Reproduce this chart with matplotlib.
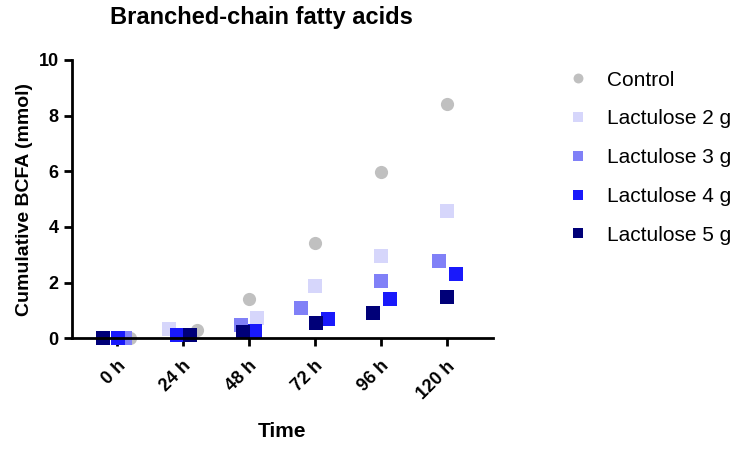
import numpy as np
import matplotlib
matplotlib.use('Agg')
import matplotlib.pyplot as plt

plt.rcParams['font.family'] = ['Liberation Sans', 'DejaVu Sans']

times = ['0 h', '24 h', '48 h', '72 h', '96 h', '120 h']
series = ['Control', 'Lactulose 2 g', 'Lactulose 3 g', 'Lactulose 4 g', 'Lactulose 5 g']
colors = ['#c0c0c0', '#d6d6fb', '#8080f7', '#1919fb', '#000078']
markers = ['o', 's', 's', 's', 's']

control = [0.0, 0.30, 1.42, 3.42, 5.96, 8.43]
lact2 = [0.0, 0.32, 0.74, 1.87, 2.96, 4.57]
lact3 = [0.0, 0.10, 0.47, 1.10, 2.06, 2.77]
lact4 = [0.0, 0.13, 0.27, 0.68, 1.40, 2.31]
lact5 = [0.0, 0.13, 0.23, 0.56, 0.90, 1.50]
values = [control, lact2, lact3, lact4, lact5]

# horizontal scatter of the points around each time (in category units)
jitter = [
    [0.20, 0.21, 0.0, 0.0, 0.0, 0.0],
    [0.05, -0.21, 0.13, 0.0, 0.0, 0.0],
    [0.12, -0.03, -0.12, -0.20, 0.0, -0.12],
    [0.02, -0.09, 0.09, 0.21, 0.14, 0.14],
    [-0.21, 0.11, -0.08, 0.02, -0.12, 0.0],
]

fig = plt.figure(figsize=(7.42, 4.51), dpi=100)
ax = fig.add_axes([0.097, 0.25, 0.567, 0.617])

x = np.arange(len(times))
for name, col, mk, vals, jit in zip(series, colors, markers, values, jitter):
    ms = 9.5 if mk == 'o' else 10.5
    ax.plot(x + np.array(jit), vals, linestyle='none', marker=mk, color=col,
            markersize=ms, markeredgewidth=0, label=name, clip_on=False)

ax.set_xlim(-0.68, 5.7)
ax.set_ylim(0, 10)
ax.set_yticks([0, 2, 4, 6, 8, 10])
ax.set_xticks(x)
ax.set_xticklabels(times, rotation=45, ha='right', rotation_mode='anchor',
                   fontweight='bold', fontsize=13)
for lab in ax.get_yticklabels():
    lab.set_fontweight('bold')
    lab.set_fontsize(13)

for s in ['top', 'right']:
    ax.spines[s].set_visible(False)
for s in ['left', 'bottom']:
    ax.spines[s].set_linewidth(2)
ax.tick_params(width=2, length=6)
ax.tick_params(axis='x', pad=8)

ax.set_ylabel('Cumulative BCFA (mmol)', fontsize=14, fontweight='bold')
ax.set_xlabel('Time', fontsize=15, fontweight='bold', labelpad=14)
ax.set_title('Branched-chain fatty acids', fontsize=17, fontweight='bold',
             pad=26, x=0.45)

leg = fig.legend(loc='upper left', bbox_to_anchor=(0.74, 0.885), frameon=False,
                 fontsize=15, labelspacing=0.95, handletextpad=0.9,
                 handlelength=1.0, markerscale=0.75)

fig.savefig('out.png', dpi=100)
